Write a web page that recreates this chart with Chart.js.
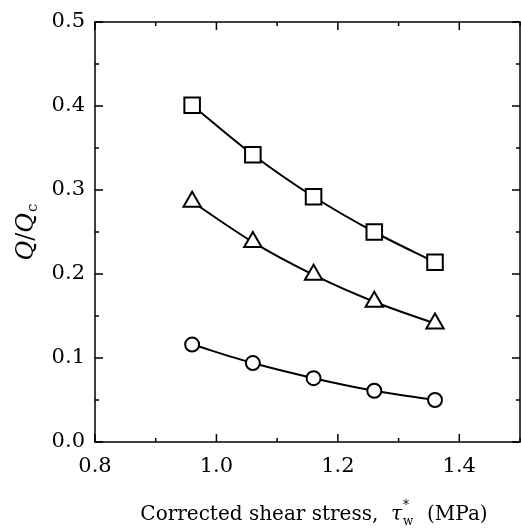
<!DOCTYPE html>
<html>
<head>
<meta charset="utf-8">
<script src="https://cdn.jsdelivr.net/npm/chart.js@4.4.1/dist/chart.umd.min.js"></script>
<style>
  html, body { margin: 0; padding: 0; background: #fff; }
  #wrap { width: 521px; height: 530px; }
</style>
</head>
<body>
<div id="wrap"><canvas id="chart"></canvas></div>
<script>
// values
var stress   = [0.96, 1.06, 1.16, 1.26, 1.36];
var squares  = [0.401, 0.342, 0.292, 0.250, 0.214];
var triangles= [0.286, 0.238, 0.199, 0.167, 0.141];
var circles  = [0.116, 0.094, 0.076, 0.061, 0.050];

var xTicks = [0.8, 1.0, 1.2, 1.4];
var xMinor = [0.9, 1.1, 1.3, 1.5];
var yTicks = [0.0, 0.1, 0.2, 0.3, 0.4, 0.5];
var yMinor = [0.05, 0.15, 0.25, 0.35, 0.45];

var FONT = '"DejaVu Serif", "Liberation Serif", serif';

function pts(ys) {
  return stress.map(function(x, i) { return { x: x, y: ys[i] }; });
}

// frame + inward ticks on all four sides
const frameTicks = {
  id: 'frameTicks',
  afterDatasetsDraw(chart) {
    const { ctx, chartArea: { left, right, top, bottom }, scales: { x, y } } = chart;
    ctx.save();
    ctx.strokeStyle = '#000';
    ctx.lineWidth = 1.5;
    ctx.strokeRect(left, top, right - left, bottom - top);
    function tickX(v, len) {
      const px = x.getPixelForValue(v);
      ctx.beginPath();
      ctx.moveTo(px, bottom); ctx.lineTo(px, bottom - len);
      ctx.moveTo(px, top); ctx.lineTo(px, top + len);
      ctx.stroke();
    }
    function tickY(v, len) {
      const py = y.getPixelForValue(v);
      ctx.beginPath();
      ctx.moveTo(left, py); ctx.lineTo(left + len, py);
      ctx.moveTo(right, py); ctx.lineTo(right - len, py);
      ctx.stroke();
    }
    xTicks.forEach(v => tickX(v, 8));
    xMinor.forEach(v => tickX(v, 4));
    yTicks.forEach(v => tickY(v, 8));
    yMinor.forEach(v => tickY(v, 4));
    ctx.restore();
  }
};

// axis titles with sub/superscripts
const axisTitles = {
  id: 'axisTitles',
  afterDraw(chart) {
    const ctx = chart.ctx;
    ctx.save();
    ctx.fillStyle = '#000';
    ctx.textBaseline = 'alphabetic';
    ctx.textAlign = 'left';

    const big = '20px ' + FONT, ital = 'italic 20px ' + FONT, small = '12px ' + FONT;

    // x title: Corrected shear stress,  τ*w  (MPa)
    const part1 = 'Corrected shear stress,  ';
    const part2 = '  (MPa)';
    ctx.font = big;  const w1 = ctx.measureText(part1).width;
    ctx.font = ital; const wt = ctx.measureText('τ').width;
    ctx.font = small; const ws = Math.max(ctx.measureText('*').width, ctx.measureText('w').width);
    ctx.font = big;  const w2 = ctx.measureText(part2).width;
    const total = w1 + wt + ws + 2 + w2;
    let cx = 314 - total / 2;
    const by = 520;
    ctx.font = big;  ctx.fillText(part1, cx, by); cx += w1;
    ctx.font = ital; ctx.fillText('τ', cx, by); cx += wt + 1;
    ctx.font = small; ctx.fillText('*', cx, by - 11); ctx.fillText('w', cx, by + 5); cx += ws + 1;
    ctx.font = big;  ctx.fillText(part2, cx, by);

    // y title: Q/Qc rotated
    const yBig = '24px ' + FONT, yItal = 'italic 24px ' + FONT, ySmall = '15px ' + FONT;
    ctx.translate(33, 232);
    ctx.rotate(-Math.PI / 2);
    ctx.font = yItal; const wq = ctx.measureText('Q').width;
    ctx.font = yBig;  const wsl = ctx.measureText('/').width;
    ctx.font = ySmall; const wc = ctx.measureText('c').width;
    let yx = -(wq * 2 + wsl + wc + 1) / 2;
    ctx.font = yItal; ctx.fillText('Q', yx, 0); yx += wq;
    ctx.font = yBig;  ctx.fillText('/', yx, 0); yx += wsl;
    ctx.font = yItal; ctx.fillText('Q', yx, 0); yx += wq + 1;
    ctx.font = ySmall; ctx.fillText('c', yx, 4);
    ctx.restore();
  }
};

function series(label, data, style, radius) {
  return {
    label: label,
    data: pts(data),
    borderColor: '#000',
    borderWidth: 2,
    pointStyle: style,
    pointRadius: radius,
    pointBorderWidth: 2,
    pointBorderColor: '#000',
    pointBackgroundColor: '#fff',
    fill: false,
    tension: 0.4,
    cubicInterpolationMode: 'monotone'
  };
}

new Chart('chart', {
  type: 'line',
  data: {
    datasets: [
      series('squares', squares, 'rect', 11),
      series('triangles', triangles, 'triangle', 10),
      series('circles', circles, 'circle', 7)
    ]
  },
  options: {
    responsive: true,
    maintainAspectRatio: false,
    animation: false,
    // autoPadding off, otherwise the big markers push the frame in from the right edge
    layout: { autoPadding: false, padding: { top: 22, right: 1, left: 0, bottom: 0 } },
    plugins: { legend: { display: false }, tooltip: { enabled: false } },
    scales: {
      x: {
        type: 'linear',
        min: 0.8, max: 1.5,
        afterBuildTicks: s => { s.ticks = xTicks.map(v => ({ value: v })); },
        afterFit: s => { s.height = 88; },
        grid: { display: false },
        border: { display: false },
        ticks: {
          color: '#000',
          font: { family: FONT, size: 21 },
          padding: 4,
          maxRotation: 0,
          callback: v => v.toFixed(1)
        }
      },
      y: {
        min: 0, max: 0.5,
        afterBuildTicks: s => { s.ticks = yTicks.map(v => ({ value: v })); },
        afterFit: s => { s.width = 95; },
        grid: { display: false },
        border: { display: false },
        ticks: {
          color: '#000',
          font: { family: FONT, size: 21 },
          padding: 2,
          callback: v => v.toFixed(1)
        }
      }
    }
  },
  plugins: [frameTicks, axisTitles]
});
</script>
</body>
</html>
